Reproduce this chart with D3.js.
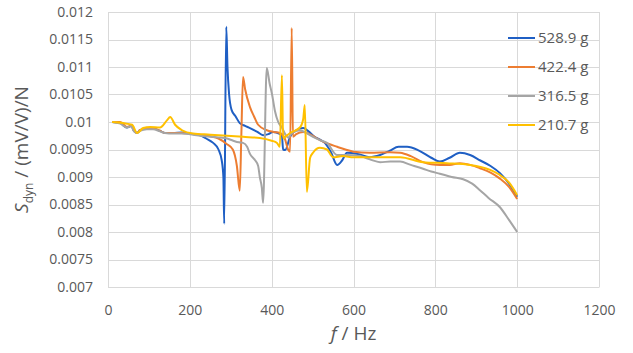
<!DOCTYPE html>
<html>
<head>
<meta charset="utf-8">
<script src="https://cdn.jsdelivr.net/npm/d3@7"></script>
<style>
  body { margin: 0; background: #fff; }
  text { font-family: "Open Sans", "Liberation Sans", sans-serif; }
</style>
</head>
<body>
<div id="chart"></div>
<script>
// tick labels
var xTicks = [0, 200, 400, 600, 800, 1000, 1200];
var yTicks = [0.007, 0.0075, 0.008, 0.0085, 0.009, 0.0095, 0.01, 0.0105, 0.011, 0.0115, 0.012];
var seriesNames = ["528.9 g", "422.4 g", "316.5 g", "210.7 g"];

// 528.9 g
var f1 = [10,30,46,59,61,71,78,95,110,127,139,159,180,208,225,240,257,270,278,282,284,289,292,296,302,312,322,335,347,365,379,392,403,415,425,428,433,445,460,477,490,505,518,530,545,560,572,584,610,640,665,689,710,731,760,790,811,835,860,885,910,935,958,980,1000];
var s1 = [0.01,0.00998,0.0099,0.00993,0.00987,0.0098,0.00985,0.00988,0.00988,0.00984,0.0098,0.0098,0.00981,0.00978,0.00976,0.0097,0.00962,0.0095,0.0093,0.009,0.00815,0.01173,0.0110,0.0105,0.01022,0.0101,0.00998,0.00993,0.00989,0.00982,0.00976,0.00978,0.00982,0.0098,0.00975,0.0095,0.00949,0.00973,0.00985,0.00989,0.00983,0.00973,0.00968,0.00962,0.00945,0.00922,0.0093,0.00944,0.00942,0.00936,0.0094,0.00948,0.00955,0.00955,0.00948,0.00935,0.00928,0.00935,0.00944,0.0094,0.0093,0.0092,0.00907,0.00888,0.00864];

// 422.4 g
var f2 = [10,30,46,59,61,71,78,95,110,127,139,159,180,208,225,250,270,290,305,315,322,326,330,335,347,357,367,388,405,420,432,440,445,449,452,460,477,500,518,540,560,580,600,640,689,714,740,770,790,811,835,860,885,909,935,958,980,1000];
var s2 = [0.01,0.01,0.00991,0.00994,0.00987,0.0098,0.00985,0.00988,0.00988,0.00984,0.0098,0.0098,0.0098,0.00978,0.00977,0.00974,0.0097,0.0096,0.0095,0.0092,0.00875,0.0098,0.01082,0.0106,0.01027,0.0101,0.00995,0.00985,0.00982,0.0098,0.0097,0.0095,0.00946,0.01171,0.00973,0.00978,0.00982,0.00975,0.00967,0.0096,0.00955,0.0095,0.00946,0.00944,0.00945,0.00944,0.00938,0.00927,0.00923,0.00922,0.00922,0.00925,0.00922,0.00916,0.00908,0.00897,0.00882,0.0086];

// 316.5 g
var f3 = [10,30,46,59,61,71,78,95,110,127,139,159,180,208,225,250,270,291,306,320,330,340,347,359,367,371,376,379,388,395,401,408,416,425,433,440,450,469,485,501,518,535,560,584,616,640,665,690,714,740,770,790,811,840,868,890,909,930,958,980,1000];
var s3 = [0.01,0.00997,0.0099,0.00993,0.00986,0.0098,0.00984,0.00987,0.00987,0.00983,0.0098,0.00979,0.00979,0.00977,0.00975,0.00973,0.00972,0.0097,0.00966,0.00963,0.00962,0.00955,0.00942,0.00931,0.0092,0.009,0.0088,0.00853,0.01098,0.0107,0.0105,0.0102,0.01,0.0099,0.00978,0.00972,0.0098,0.00985,0.0098,0.00973,0.00967,0.00962,0.0094,0.0094,0.00938,0.00932,0.00927,0.00928,0.00928,0.00922,0.00915,0.0091,0.00906,0.009,0.00896,0.00888,0.00876,0.00862,0.00845,0.00822,0.008];

// 210.7 g
var f4 = [10,37,59,71,86,103,127,144,152,164,181,208,250,291,330,371,400,413,420,425,428,433,445,469,477,481,486,494,501,518,535,550,574,600,640,689,714,770,828,885,934,955,980,1000];
var s4 = [0.01,0.00998,0.00995,0.0098,0.00989,0.00991,0.0099,0.01003,0.01009,0.00995,0.00985,0.00979,0.00977,0.00975,0.00973,0.00971,0.00966,0.00962,0.00955,0.01085,0.0097,0.00973,0.0098,0.0099,0.01005,0.01031,0.00873,0.00935,0.00944,0.00953,0.0095,0.00936,0.00938,0.00936,0.00936,0.00936,0.00936,0.00927,0.00925,0.00922,0.00913,0.00905,0.0089,0.00867];

var colors = ["#1f5fc4", "#ed7d31", "#a5a5a5", "#ffc000"];
var freqs = [f1, f2, f3, f4];
var vals = [s1, s2, s3, s4];

var W = 633, H = 353;
var margin = {top: 12, right: 34, bottom: 66, left: 108};
var width = W - margin.left - margin.right;
var height = H - margin.top - margin.bottom;

var svg = d3.select("#chart").append("svg")
	.attr("width", W)
	.attr("height", H);

var g = svg.append("g")
	.attr("transform", "translate(" + margin.left + "," + margin.top + ")");

var x = d3.scaleLinear().domain([0, 1200]).range([0, width]);
var y = d3.scaleLinear().domain([0.007, 0.012]).range([height, 0]);

// gridlines
g.selectAll(".hgrid").data(yTicks).enter().append("line")
	.attr("x1", 0).attr("x2", width)
	.attr("y1", function(d){ return Math.round(y(d)) + 0.5; })
	.attr("y2", function(d){ return Math.round(y(d)) + 0.5; })
	.attr("stroke", "#d9d9d9").attr("stroke-width", 1);
g.selectAll(".vgrid").data(xTicks).enter().append("line")
	.attr("y1", 0).attr("y2", height)
	.attr("x1", function(d){ return Math.round(x(d)) + 0.5; })
	.attr("x2", function(d){ return Math.round(x(d)) + 0.5; })
	.attr("stroke", "#d9d9d9").attr("stroke-width", 1);

// axes
var yAxis = d3.axisLeft(y).tickValues(yTicks).tickSize(0).tickPadding(15)
	.tickFormat(function(d){ return String(+d.toPrecision(4)); });
var gy = g.append("g").call(yAxis);
gy.select(".domain").remove();
gy.selectAll("text").attr("fill", "#595959").style("font-size", "14px");

var xAxis = d3.axisBottom(x).tickValues(xTicks).tickSize(0).tickPadding(18)
	.tickFormat(d3.format("d"));
var gx = g.append("g").attr("transform", "translate(0," + height + ")").call(xAxis);
gx.select(".domain").attr("stroke", "#d9d9d9");
gx.selectAll("text").attr("fill", "#595959").style("font-size", "14px");

// lines
var line = d3.line()
	.x(function(d){ return x(d[0]); })
	.y(function(d){ return y(d[1]); })
	.curve(d3.curveMonotoneX);

freqs.forEach(function(fs, k){
	var pts = fs.map(function(f, i){ return [f, vals[k][i]]; });
	g.append("path")
		.datum(pts)
		.attr("fill", "none")
		.attr("stroke", colors[k])
		.attr("stroke-width", 2)
		.attr("stroke-linejoin", "round")
		.attr("d", line);
});

// legend
var legend = svg.append("g").attr("transform", "translate(508,38)");
seriesNames.forEach(function(name, i){
	var row = legend.append("g").attr("transform", "translate(0," + (i * 29) + ")");
	row.append("line").attr("x1", 0).attr("x2", 27).attr("y1", 0).attr("y2", 0)
		.attr("stroke", colors[i]).attr("stroke-width", 2);
	row.append("text").attr("x", 30).attr("y", 0).attr("dy", "0.35em")
		.attr("fill", "#595959").style("font-size", "15px").text(name);
});

// axis titles
svg.append("text")
	.attr("x", margin.left + width / 2)
	.attr("y", 340)
	.attr("text-anchor", "middle")
	.attr("fill", "#595959")
	.style("font-size", "19px")
	.html('<tspan font-style="italic">f</tspan> / Hz');

svg.append("text")
	.attr("transform", "translate(28," + (margin.top + height / 2) + ") rotate(-90)")
	.attr("text-anchor", "middle")
	.attr("fill", "#595959")
	.style("font-size", "19px")
	.html('<tspan font-style="italic">S</tspan><tspan font-size="12px" dy="5">dyn</tspan><tspan dy="-5"> / (mV/V)/N</tspan>');
</script>
</body>
</html>
